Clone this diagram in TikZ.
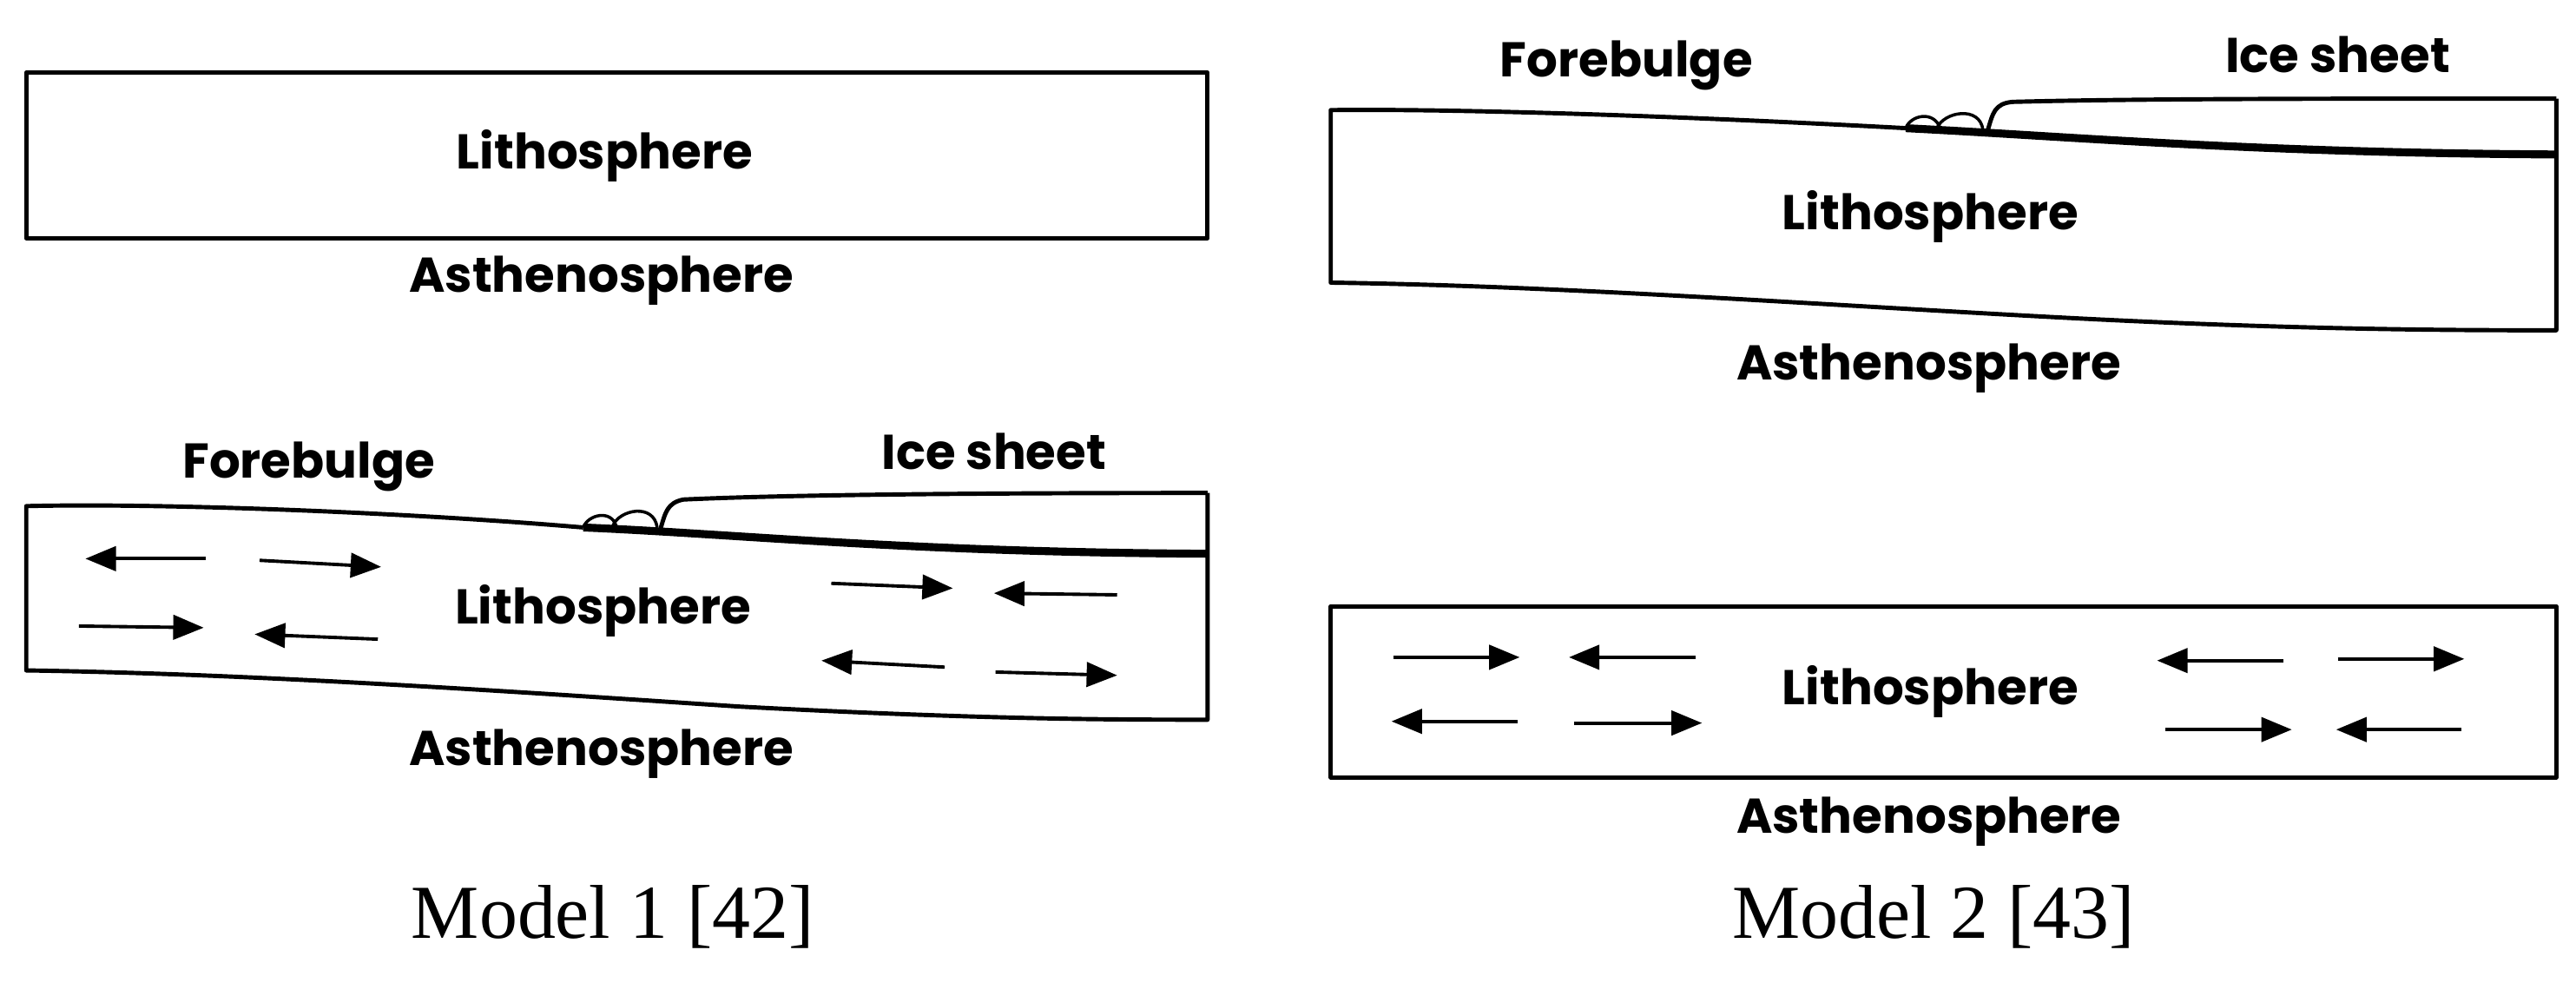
\documentclass[tikz,border=0pt]{standalone}
\usepackage{fontspec}
\setmainfont{Liberation Serif}
\newfontfamily\gfont{Poppins}
\usetikzlibrary{arrows.meta}
\begin{document}
\begin{tikzpicture}[x=0.01892cm,y=-0.01892cm,
  lbl/.style={font=\gfont\bfseries\fontsize{16}{18}\selectfont},
  captxt/.style={font=\fontsize{25}{28}\selectfont},
  ln/.style={line width=1.4pt,line join=round},
  thk/.style={line width=2.6pt},
  arr/.style={line width=1.1pt,-{Triangle[length=10pt,width=8pt]}}]
\useasboundingbox (0,0) rectangle (1568,598);
% Model 1 top
\draw[ln] (16,44) rectangle (735,145);
\node[lbl] (l1) at (368,95) {Lithosphere};
\node[lbl] (a1) at (366,171) {Asthenosphere};
% Model 1 bottom
\draw[ln] (355,321) .. controls (250,312) and (100,306) .. (16,308) -- (16,408)
  .. controls (150,410) and (300,420) .. (450,430) .. controls (600,438) and (680,438) .. (735,438) -- (735,300);
\draw[thk] (355,321) .. controls (450,325) and (550,336) .. (735,337);
\draw[ln] (402,322) .. controls (405,312) and (406,306) .. (416,304) .. controls (480,301) and (600,300) .. (735,300);
\draw[line width=1pt] (355,321) .. controls (358,313) and (372,310) .. (375,320);
\draw[line width=1pt] (373,320) .. controls (377,310) and (398,306) .. (400,321);
\node[lbl] (f1) at (188,284) {Forebulge};
\node[lbl] (i1) at (605,275) {Ice sheet};
\node[lbl] (l2) at (367,372) {Lithosphere};
\node[lbl] (a2) at (366,459) {Asthenosphere};
\coordinate (p1) at (125,340); \coordinate (q1) at (52,340);
\coordinate (p2) at (158,341); \coordinate (q2) at (232,345);
\coordinate (p3) at (506,355); \coordinate (q3) at (580,358);
\coordinate (p4) at (680,362); \coordinate (q4) at (605,361);
\coordinate (p5) at (48,381); \coordinate (q5) at (124,382);
\coordinate (p6) at (230,389); \coordinate (q6) at (155,386);
\coordinate (p7) at (575,406); \coordinate (q7) at (500,402);
\coordinate (p8) at (606,409); \coordinate (q8) at (680,411);
\foreach \i in {1,...,8} \draw[arr] (p\i) -- (q\i);
\node[captxt] (m1) at (373,558) {Model 1 [42]};
% Model 2 top
\draw[ln] (1160,78) .. controls (1050,72) and (900,66) .. (810,67) -- (810,172)
  .. controls (950,174) and (1100,185) .. (1250,193) .. controls (1400,201) and (1500,201) .. (1556,201) -- (1556,60);
\draw[thk] (1160,78) .. controls (1260,83) and (1370,93) .. (1556,94);
\draw[ln] (1210,79) .. controls (1213,69) and (1214,63) .. (1225,62) .. controls (1300,60) and (1420,60) .. (1556,60);
\draw[line width=1pt] (1160,78) .. controls (1163,70) and (1177,67) .. (1181,78);
\draw[line width=1pt] (1179,78) .. controls (1183,68) and (1205,64) .. (1207,79);
\node[lbl] (f2) at (990,40) {Forebulge};
\node[lbl] (i2) at (1423,33) {Ice sheet};
\node[lbl] (l3) at (1175,132) {Lithosphere};
\node[lbl] (a3) at (1174,224) {Asthenosphere};
% Model 2 bottom
\draw[ln] (810,369) rectangle (1556,473);
\node[lbl] (l4) at (1175,421) {Lithosphere};
\node[lbl] (a4) at (1174,500) {Asthenosphere};
\coordinate (r1) at (848,400); \coordinate (s1) at (925,400);
\coordinate (r2) at (1032,400); \coordinate (s2) at (955,400);
\coordinate (r3) at (924,439); \coordinate (s3) at (847,439);
\coordinate (r4) at (958,440); \coordinate (s4) at (1036,440);
\coordinate (r5) at (1390,402); \coordinate (s5) at (1313,402);
\coordinate (r6) at (1423,401); \coordinate (s6) at (1500,401);
\coordinate (r7) at (1318,444); \coordinate (s7) at (1395,444);
\coordinate (r8) at (1498,444); \coordinate (s8) at (1422,444);
\foreach \i in {1,...,8} \draw[arr] (r\i) -- (s\i);
\node[captxt] (m2) at (1177,558) {Model 2 [43]};
\end{tikzpicture}
\end{document}
